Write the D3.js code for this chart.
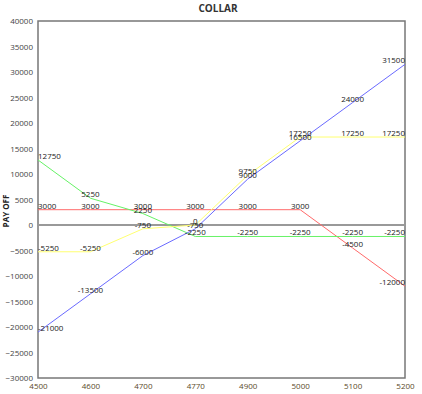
<!DOCTYPE html>
<html>
<head>
<meta charset="utf-8">
<script src="https://cdnjs.cloudflare.com/ajax/libs/d3/7.8.5/d3.min.js"></script>
<style>
  body { margin: 0; background: #fff; }
  svg text { font-family: "Open Sans", "DejaVu Sans", sans-serif; }
</style>
</head>
<body>
<script>
// strike prices on the x axis (categorical)
var strikes = ["4500", "4600", "4700", "4770", "4900", "5000", "5100", "5200"];
// payoff of each leg
var shortCall = [3000, 3000, 3000, 3000, 3000, 3000, -4500, -12000];
var longPut = [12750, 5250, 2250, -2250, -2250, -2250, -2250, -2250];
var collar = [-5250, -5250, -750, 0, 9750, 17250, 17250, 17250];
var stock = [-21000, -13500, -6000, -750, 9000, 16500, 24000, 31500];
var yTicks = [40000, 35000, 30000, 25000, 20000, 15000, 10000, 5000, 0, -5000, -10000, -15000, -20000, -25000, -30000];

var series = [
  {values: shortCall, color: "#ff6a6a"},
  {values: longPut, color: "#66f266"},
  {values: collar, color: "#ffff70"},
  {values: stock, color: "#6a6aff"}
];

var width = 422, height = 394;
var margin = {top: 21, right: 17, bottom: 16, left: 38};
var plotW = width - margin.left - margin.right;
var plotH = height - margin.top - margin.bottom;

var svg = d3.select("body").append("svg")
            .attr("width", width)
            .attr("height", height);

var x = d3.scalePoint()
          .domain(strikes)
          .range([margin.left, margin.left + plotW]);

var y = d3.scaleLinear()
          .domain([-30000, 40000])
          .range([margin.top + plotH, margin.top]);

// title
svg.append("text")
   .attr("x", 218)
   .attr("y", 12)
   .attr("text-anchor", "middle")
   .attr("font-size", 10)
   .attr("font-weight", "bold")
   .attr("fill", "#333")
   .text("COLLAR");

// y axis title
svg.append("text")
   .attr("transform", "translate(9," + (y(0) - 14) + ") rotate(-90)")
   .attr("text-anchor", "middle")
   .attr("font-size", 8)
   .attr("font-weight", "bold")
   .attr("fill", "#222")
   .text("PAY OFF");

// y tick labels
var yAxis = svg.append("g")
               .attr("transform", "translate(" + margin.left + ",0)")
               .call(d3.axisLeft(y).tickValues(yTicks).tickSize(0).tickPadding(5).tickFormat(d3.format("d")));
yAxis.select(".domain").remove();
yAxis.selectAll("text")
     .attr("font-size", 8)
     .attr("fill", "#444")
     .attr("font-family", "Open Sans, DejaVu Sans, sans-serif");

// x tick labels
var xAxis = svg.append("g")
               .attr("transform", "translate(0," + (margin.top + plotH) + ")")
               .call(d3.axisBottom(x).tickSize(0).tickPadding(5));
xAxis.select(".domain").remove();
xAxis.selectAll("text")
     .attr("font-size", 8)
     .attr("fill", "#5a4a2a")
     .attr("font-family", "Open Sans, DejaVu Sans, sans-serif");

// plot frame
svg.append("rect")
   .attr("x", margin.left)
   .attr("y", margin.top)
   .attr("width", plotW)
   .attr("height", plotH)
   .attr("fill", "none")
   .attr("stroke", "#777")
   .attr("stroke-width", 1.5);

// zero line
svg.append("line")
   .attr("x1", margin.left)
   .attr("x2", margin.left + plotW)
   .attr("y1", y(0))
   .attr("y2", y(0))
   .attr("stroke", "#999")
   .attr("stroke-width", 2);

var line = d3.line()
             .x(function(d, i) { return x(strikes[i]); })
             .y(function(d) { return y(d); });

series.forEach(function(s) {
  svg.append("path")
     .datum(s.values)
     .attr("d", line)
     .attr("fill", "none")
     .attr("stroke", s.color)
     .attr("stroke-width", 1);
});

// value labels
series.forEach(function(s) {
  svg.append("g").selectAll("text")
     .data(s.values)
     .join("text")
     .attr("x", function(d, i) { return x(strikes[i]); })
     .attr("y", function(d) { return y(d) - 1; })
     .attr("text-anchor", function(d, i) {
        if (i == 0) return "start";
        if (i == strikes.length - 1) return "end";
        return "middle";
     })
     .attr("font-size", 8)
     .attr("fill", "#222")
     .text(function(d) { return d; });
});
</script>
</body>
</html>
